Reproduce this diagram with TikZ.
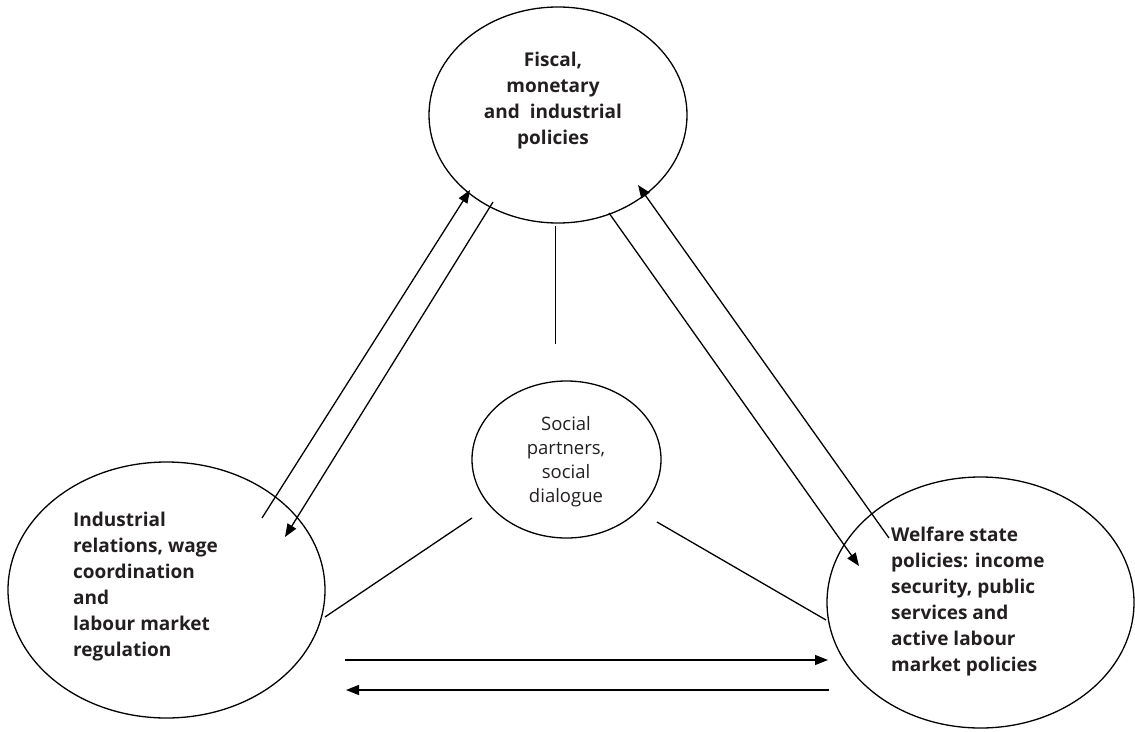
\documentclass[tikz,border=0pt]{standalone}
\usepackage{fontspec}
\setmainfont{Open Sans}
\usetikzlibrary{arrows.meta,shapes.geometric}
\definecolor{ink}{HTML}{231F20}
\tikzset{
  ell/.style={draw=black, line width=1.3pt, ellipse, inner sep=0pt},
  lbl/.style={inner sep=0pt, text=ink, font=\bfseries\fontsize{19}{26}\selectfont},
  lblr/.style={inner sep=0pt, text=ink, font=\fontsize{18.5}{24}\selectfont, align=center},
  conn/.style={line width=1.3pt},
  arr/.style={line width=1.3pt, -{Triangle[length=13pt,width=10pt]}}
}
\begin{document}
\begin{tikzpicture}[x=1pt,y=-1pt]
\useasboundingbox (0,0) rectangle (1135,731);
% ellipses
\node[ell, minimum width=258pt, minimum height=216pt] (T) at (558,115) {};
\node[ell, minimum width=317pt, minimum height=256pt] (L) at (166.5,590) {};
\node[ell, minimum width=307pt, minimum height=251pt] (R) at (980.5,602.5) {};
\node[ell, minimum width=189pt, minimum height=157pt] (C) at (566.5,459.5) {};
% texts
\node[lbl, align=center, anchor=north] (tT) at (553,52) {Fiscal,\\monetary\\and~~industrial\\policies};
\node[lbl, align=left, anchor=north west] (tL) at (73,512) {Industrial\\relations, wage\\coordination\\and\\labour market\\regulation};
\node[lbl, align=left, anchor=north west] (tR) at (891,527) {Welfare state\\policies: income\\security, public\\services and\\active labour\\market policies};
\node[lblr, anchor=north] (tC) at (566,416) {Social\\partners,\\social\\dialogue};
% connector end points
\coordinate (a1) at (262,518);  \coordinate (a2) at (470,190);
\coordinate (b1) at (493,202);  \coordinate (b2) at (285,537);
\coordinate (c1) at (609,213);  \coordinate (c2) at (859,566);
\coordinate (d1) at (889,538);  \coordinate (d2) at (638,185);
\coordinate (v1) at (555.5,226); \coordinate (v2) at (555.5,344);
\coordinate (l1) at (325,617);  \coordinate (l2) at (472,518);
\coordinate (r1) at (657,522);  \coordinate (r2) at (826,620);
\coordinate (h1) at (345,660);  \coordinate (h2) at (828,660);
\coordinate (k1) at (829,690);  \coordinate (k2) at (346,690);
% connectors
\draw[arr] (a1) -- (a2);
\draw[arr] (b1) -- (b2);
\draw[arr] (c1) -- (c2);
\draw[arr] (d1) -- (d2);
\draw[conn] (v1) -- (v2);
\draw[conn] (l1) -- (l2);
\draw[conn] (r1) -- (r2);
\draw[arr] (h1) -- (h2);
\draw[arr] (k1) -- (k2);
\end{tikzpicture}
\end{document}
